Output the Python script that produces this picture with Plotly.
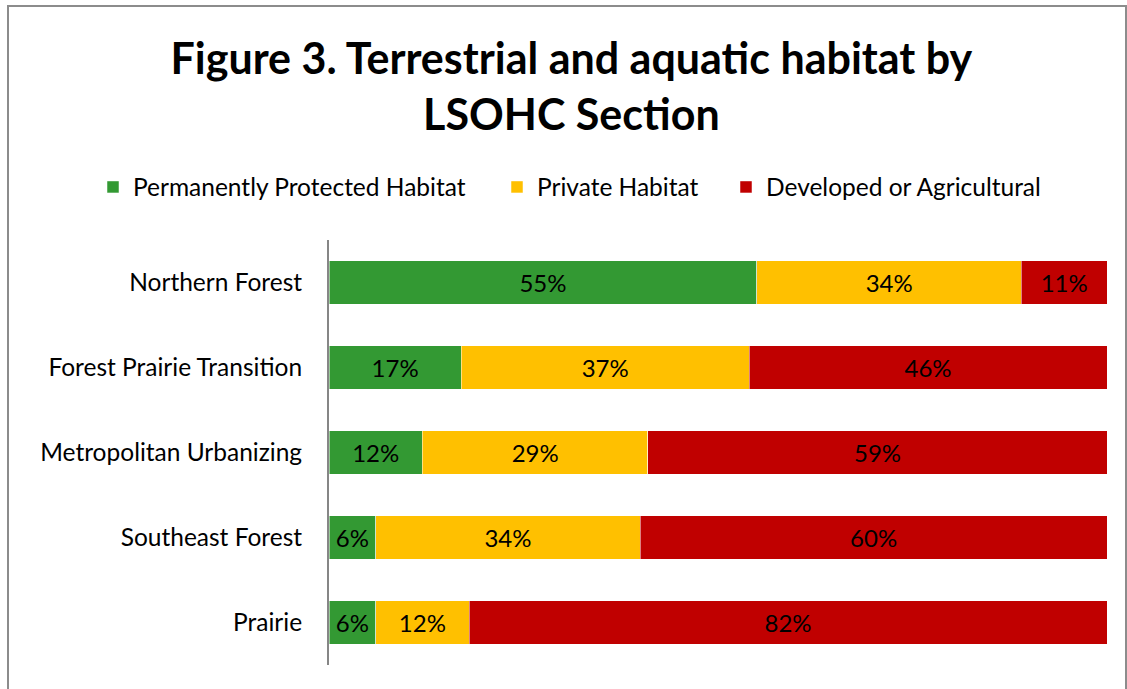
import plotly.graph_objects as go

categories = ["Northern Forest", "Forest Prairie Transition", "Metropolitan Urbanizing",
              "Southeast Forest", "Prairie"]
protected = [55, 17, 12, 6, 6]
private = [34, 37, 29, 34, 12]
developed = [11, 46, 59, 60, 82]

series_names = ["Permanently Protected Habitat", "Private Habitat", "Developed or Agricultural"]
series_values = [protected, private, developed]
series_colors = ["#339933", "#FFC000", "#C00000"]

FONT = "Lato"
W, H = 1127, 689
L, R, T, B = 329, 20, 240, 24
PW, PH = W - L - R, H - T - B

def px_x(x):
    return (x - L) / PW

def px_y(y):
    return (H - B - y) / PH

legend_ids = ["legend", "legend2", "legend3"]
legend_text_left = [133, 537, 766]

fig = go.Figure()
for name, vals, color, lid in zip(series_names, series_values, series_colors, legend_ids):
    fig.add_trace(go.Bar(
        y=categories, x=vals, name=name, orientation="h", legend=lid,
        marker=dict(color=color, line=dict(color="rgba(255,255,255,0.5)", width=1)),
        text=[f"{v}%" for v in vals], textposition="inside",
        insidetextanchor="middle",
        textfont=dict(family=FONT, size=24, color="#000000"),
        hoverinfo="skip",
    ))

legend_common = dict(orientation="h", xanchor="left", yanchor="middle",
                     xref="paper", yref="paper", y=px_y(187),
                     bgcolor="rgba(0,0,0,0)",
                     font=dict(family=FONT, size=24.5, color="#000000"),
                     itemclick=False, itemdoubleclick=False)
legends = {}
for lid, tl in zip(legend_ids, legend_text_left):
    legends[lid] = dict(legend_common, x=px_x(tl - 40))

fig.update_layout(
    barmode="stack",
    width=W, height=H,
    margin=dict(l=L, r=R, t=T, b=B),
    paper_bgcolor="white", plot_bgcolor="white",
    bargap=0.49,
    font=dict(family=FONT, size=24.5, color="#000000"),
    title=dict(text="<b>Figure 3. Terrestrial and aquatic habitat by<br>LSOHC Section</b>",
               font=dict(family=FONT, size=43, color="#000000"),
               x=0.507, xanchor="center", xref="container",
               y=0.893, yanchor="top", yref="container"),
    showlegend=True,
    **legends,
)
fig.update_xaxes(range=[0, 100], visible=False, showgrid=False, zeroline=False, fixedrange=True)
fig.update_yaxes(autorange="reversed", showline=True, linecolor="#868686", linewidth=2,
                 ticks="", ticklabelstandoff=20, showgrid=False,
                 tickfont=dict(family=FONT, size=24.5, color="#000000"), fixedrange=True)

# outer chart border
fig.add_shape(type="rect", xref="paper", yref="paper",
              x0=px_x(8), x1=px_x(1126),
              y0=px_y(720), y1=px_y(6),
              line=dict(color="#8c8c8c", width=2), fillcolor="rgba(0,0,0,0)", layer="below")

fig.write_html("out.html", config={"displayModeBar": False},
               post_script="document.body.style.margin='0';")
